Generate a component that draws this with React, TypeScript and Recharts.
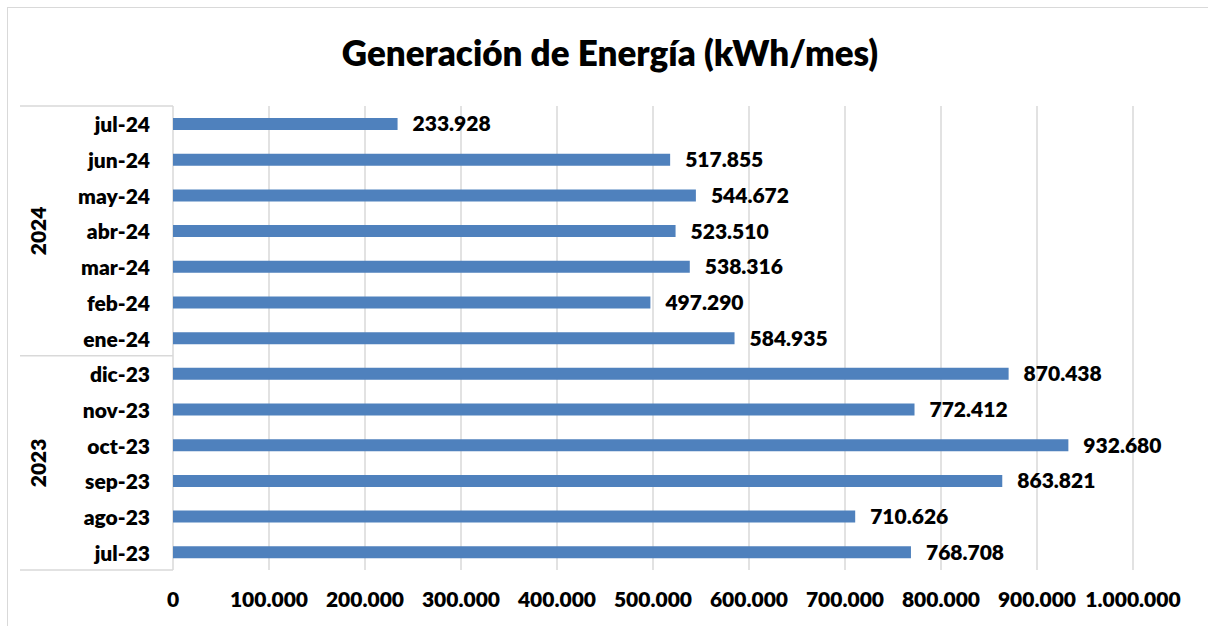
import React from 'react';
import { BarChart, Bar, XAxis, YAxis, CartesianGrid, LabelList } from 'recharts';

// meses de jul-23 a jul-24 (abajo hacia arriba en el gráfico)
const MONTHS = ['jul-23', 'ago-23', 'sep-23', 'oct-23', 'nov-23', 'dic-23', 'ene-24', 'feb-24', 'mar-24', 'abr-24', 'may-24', 'jun-24', 'jul-24'];
const GENERATION = [768708, 710626, 863821, 932680, 772412, 870438, 584935, 497290, 538316, 523510, 544672, 517855, 233928];
const YEAR_LABELS = ['2023', '2024'];
const YEAR_SIZES = [6, 7];
const X_TICKS = [0, 100000, 200000, 300000, 400000, 500000, 600000, 700000, 800000, 900000, 1000000];

const W = 1200;
const H = 618;
const MARGIN = { top: 98, right: 75, bottom: 0, left: 0 };
const AXIS_W = 165;
const X_AXIS_H = 56;
const PLOT_H = H - MARGIN.top - MARGIN.bottom - X_AXIS_H;
const BAND = PLOT_H / MONTHS.length;
const GROUP_X0 = 12;
const FONT = 'Lato, "Open Sans", sans-serif';
const WEIGHT = 800;
const FS = 21;

const data = MONTHS.map((m, i) => ({ month: m, value: GENERATION[i] }));

const fmt = (v: number) => String(v).replace(/\B(?=(\d{3})+(?!\d))/g, '.');

// starting index of each year group
const groupStarts = YEAR_SIZES.map((_, i) => YEAR_SIZES.slice(0, i).reduce((a, b) => a + b, 0));

const MonthTick = (props: any) => {
  const { y, payload } = props;
  const idx = payload.index;
  const g = groupStarts.indexOf(idx);
  const isLast = idx === MONTHS.length - 1;
  const yearY = g >= 0 ? y - ((YEAR_SIZES[g] - 1) / 2) * BAND : 0;
  return (
    <g>
      <text x={AXIS_W - 23} y={y} textAnchor="end" dominantBaseline="central" fontSize={FS} fontWeight={WEIGHT} fill="#000">
        {payload.value}
      </text>
      {g >= 0 && (
        <>
          <line x1={GROUP_X0} x2={AXIS_W} y1={y + BAND / 2} y2={y + BAND / 2} stroke="#d9d9d9" strokeWidth={1.5} />
          <text
            x={30}
            y={yearY}
            transform={`rotate(-90, 30, ${yearY})`}
            textAnchor="middle"
            dominantBaseline="central"
            fontSize={FS}
            fontWeight={WEIGHT}
            fill="#000"
          >
            {YEAR_LABELS[g]}
          </text>
        </>
      )}
      {isLast && <line x1={GROUP_X0} x2={AXIS_W} y1={y - BAND / 2} y2={y - BAND / 2} stroke="#d9d9d9" strokeWidth={1.5} />}
    </g>
  );
};

const ValueTick = (props: any) => {
  const { x, y, payload } = props;
  return (
    <text x={x} y={y + 29} textAnchor="middle" fontSize={FS} fontWeight={WEIGHT} fill="#000">
      {fmt(payload.value)}
    </text>
  );
};

export default function App() {
  return (
    <div
      style={{
        position: 'absolute',
        top: 7,
        left: 7,
        width: W,
        height: H,
        borderTop: '1.5px solid #d9d9d9',
        borderLeft: '1.5px solid #d9d9d9',
        fontFamily: FONT,
        background: '#fff',
      }}
    >
      <div
        style={{
          position: 'absolute',
          top: 24,
          left: 0,
          width: 1204,
          textAlign: 'center',
          fontSize: 35,
          fontWeight: WEIGHT,
          lineHeight: '41px',
          color: '#000',
          whiteSpace: 'nowrap',
        }}
      >
        Generación de Energía (kWh/mes)
      </div>
      <BarChart width={W} height={H} data={data} layout="vertical" margin={MARGIN} barSize={12}>
        <CartesianGrid horizontal={false} stroke="#d9d9d9" strokeWidth={1.5} />
        <XAxis
          type="number"
          domain={[0, 1000000]}
          ticks={X_TICKS}
          axisLine={false}
          tickLine={false}
          height={X_AXIS_H}
          interval={0}
          tick={(p: any) => <ValueTick {...p} />}
        />
        <YAxis
          type="category"
          dataKey="month"
          reversed
          width={AXIS_W}
          axisLine={false}
          tickLine={false}
          interval={0}
          tick={(p: any) => <MonthTick {...p} />}
        />
        <Bar dataKey="value" fill="#4f81bd" isAnimationActive={false}>
          <LabelList
            dataKey="value"
            position="right"
            offset={15}
            formatter={(v: any) => fmt(Number(v))}
            style={{ fontSize: FS, fontWeight: WEIGHT, fill: '#000', fontFamily: FONT }}
          />
        </Bar>
      </BarChart>
    </div>
  );
}
